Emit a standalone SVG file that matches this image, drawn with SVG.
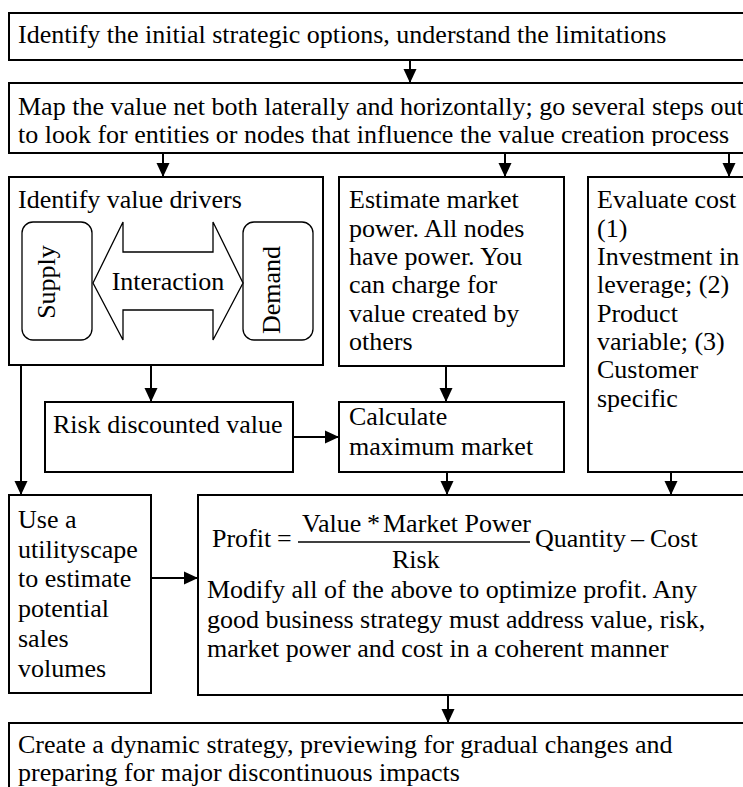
<svg xmlns="http://www.w3.org/2000/svg" width="743" height="787" viewBox="0 0 743 787">
<style>
.box{fill:#fff;stroke:#000;stroke-width:2}
.thin{fill:#fff;stroke:#000;stroke-width:1.3}
.t{font-family:"Liberation Serif","Times New Roman",serif;font-size:26px;fill:#000}
.c{stroke:#000;stroke-width:2;fill:none;marker-end:url(#ah)}
</style>
<defs>
<marker id="ah" markerUnits="userSpaceOnUse" markerWidth="14" markerHeight="14" viewBox="0 0 14 14" refX="14" refY="7" orient="auto">
<path d="M0,0.5 L14,7 L0,13.5 Z" fill="#000"/>
</marker>
<clipPath id="clip2"><rect x="9" y="83" width="740" height="63"/></clipPath>
</defs>
<g id="n1">
<rect class="box" x="9" y="13" width="760" height="47"/>
<text class="t" x="18" y="43">Identify the initial strategic options, understand the limitations</text>
</g>
<g id="n2">
<rect class="box" x="9" y="83" width="760" height="70"/>
<g clip-path="url(#clip2)">
<text class="t" x="18" y="115">Map the value net both laterally and horizontally; go several steps out</text>
<text class="t" x="18" y="143">to look for entities or nodes that influence the value creation process</text>
</g>
</g>
<g id="n3">
<rect class="box" x="9" y="177" width="314" height="188"/>
<text class="t" x="18" y="208">Identify value drivers</text>
<rect class="thin" x="22" y="222" width="70" height="118" rx="11"/>
<rect class="thin" x="243" y="222" width="70" height="118" rx="11"/>
<polygon class="thin" points="93,283 123,222 123,252 213,252 213,222 243,283 213,340 213,310 123,310 123,340"/>
<text class="t" x="168" y="290" text-anchor="middle">Interaction</text>
<text class="t" transform="translate(55,282) rotate(-90)" text-anchor="middle">Supply</text>
<text class="t" transform="translate(280,290) rotate(-90)" text-anchor="middle">Demand</text>
</g>
<g id="n4">
<rect class="box" x="339" y="177" width="225" height="189"/>
<text class="t" x="349" y="208">Estimate market</text>
<text class="t" x="349" y="237">power. All nodes</text>
<text class="t" x="349" y="265">have power. You</text>
<text class="t" x="349" y="293">can charge for</text>
<text class="t" x="349" y="322">value created by</text>
<text class="t" x="349" y="350">others</text>
</g>
<g id="n5">
<rect class="box" x="588" y="177" width="180" height="295"/>
<text class="t" x="597" y="208">Evaluate cost</text>
<text class="t" x="597" y="237">(1)</text>
<text class="t" x="597" y="265">Investment in</text>
<text class="t" x="597" y="293">leverage; (2)</text>
<text class="t" x="597" y="322">Product</text>
<text class="t" x="597" y="350">variable; (3)</text>
<text class="t" x="597" y="378">Customer</text>
<text class="t" x="597" y="407">specific</text>
</g>
<g id="n6">
<rect class="box" x="45" y="402" width="248" height="70"/>
<text class="t" x="53" y="433">Risk discounted value</text>
</g>
<g id="n7">
<rect class="box" x="339" y="402" width="225" height="70"/>
<text class="t" x="349" y="425">Calculate</text>
<text class="t" x="349" y="455">maximum market</text>
</g>
<g id="n8">
<rect class="box" x="9" y="495" width="142" height="198"/>
<text class="t" x="18" y="528">Use a</text>
<text class="t" x="18" y="558">utilityscape</text>
<text class="t" x="18" y="587">to estimate</text>
<text class="t" x="18" y="617">potential</text>
<text class="t" x="18" y="647">sales</text>
<text class="t" x="18" y="677">volumes</text>
</g>
<g id="n9">
<rect class="box" x="198" y="495" width="570" height="200"/>
<text class="t" x="212" y="547">Profit</text>
<text class="t" x="277" y="547">=</text>
<text class="t" x="302" y="532">Value</text>
<text class="t" x="367" y="532">*</text>
<text class="t" x="383" y="532">Market Power</text>
<line x1="298" y1="542" x2="530" y2="542" stroke="#000" stroke-width="1.3"/>
<text class="t" x="392" y="568">Risk</text>
<text class="t" x="535" y="547">Quantity</text>
<text class="t" x="631" y="547">–</text>
<text class="t" x="650" y="547">Cost</text>
<text class="t" x="207" y="598">Modify all of the above to optimize profit. Any</text>
<text class="t" x="207" y="628">good business strategy must address value, risk,</text>
<text class="t" x="207" y="657">market power and cost in a coherent manner</text>
</g>
<g id="n10">
<rect class="box" x="9" y="723" width="760" height="90"/>
<text class="t" x="18" y="753">Create a dynamic strategy, previewing for gradual changes and</text>
<text class="t" x="18" y="781">preparing for major discontinuous impacts</text>
</g>
<g id="connectors">
<line class="c" x1="410" y1="60" x2="410" y2="83"/>
<line class="c" x1="163" y1="153" x2="163" y2="177"/>
<line class="c" x1="505" y1="153" x2="505" y2="177"/>
<line class="c" x1="729" y1="153" x2="729" y2="177"/>
<line class="c" x1="151" y1="365" x2="151" y2="402"/>
<line class="c" x1="446" y1="366" x2="446" y2="402"/>
<line class="c" x1="293" y1="437" x2="339" y2="437"/>
<line class="c" x1="21" y1="365" x2="21" y2="495"/>
<line class="c" x1="447" y1="472" x2="447" y2="495"/>
<line class="c" x1="671" y1="472" x2="671" y2="495"/>
<line class="c" x1="151" y1="578" x2="198" y2="578"/>
<line class="c" x1="448" y1="695" x2="448" y2="723"/>
</g>
</svg>
